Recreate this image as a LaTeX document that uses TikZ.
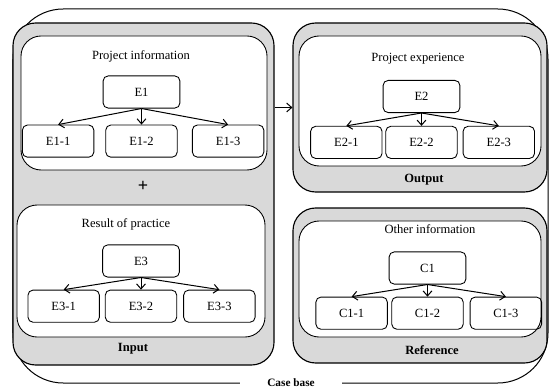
\documentclass[tikz,border=0pt]{standalone}
\usepackage{fontspec}
\setmainfont{Liberation Serif}
\usetikzlibrary{arrows.meta,positioning,fit}

\begin{document}
\begin{tikzpicture}[
    x=0.028cm, y=-0.028cm,
    >={Straight Barb[length=4pt,width=7pt]},
    font=\fontsize{10}{12}\selectfont,
    box/.style={
        draw,
        rounded corners=4pt,
        line width=0.7pt,
        minimum width=2cm,
        minimum height=0.9cm
    },
    topbox/.style={box, minimum width=2.15cm},
    panel/.style={draw, fill=black!15, rounded corners=18pt, line width=0.9pt, inner sep=0pt},
    inner/.style={draw, fill=white, rounded corners=16pt, line width=0.7pt, inner sep=0pt},
    tag/.style={font=\fontsize{10}{12}\selectfont\bfseries},
    link/.style={->, line width=0.8pt}
]

\useasboundingbox (0,0) rectangle (549,389);

% Case base
\node[draw, rounded corners=40pt, line width=0.8pt, inner sep=0pt, fit={(13,9) (548,383)}] (casebase) {};
\node[fill=white, inner xsep=22pt, inner ysep=1pt, font=\fontsize{9}{11}\selectfont\bfseries] (cblabel) at (291,383) {Case base};

% Panels
\node[panel, fit={(13,23) (274,365)}] (input) {};
\node[inner, fit={(21,36) (267,170)}] (prjinfo) {};
\node[inner, fit={(17,205) (265,337)}] (result) {};
\node[panel, fit={(293,23) (547,192)}] (output) {};
\node[inner, fit={(299,36) (541,166)}] (exper) {};
\node[panel, fit={(293,208) (547,363)}] (reference) {};
\node[inner, fit={(299,221) (541,337)}] (other) {};

% Titles
\node (prjinfotitle) at (141,56) {Project information};
\node (resulttitle) at (126,224) {Result of practice};
\node (expertitle) at (418,59) {Project experience};
\node (othertitle) at (430,229) {Other information};
\node[tag] (inputtag) at (133,349) {Input};
\node[tag] (outputtag) at (424,180) {Output};
\node[tag] (referencetag) at (432,350) {Reference};
\node[font=\Large\bfseries] (plus) at (143,186) {+};

% Project information
\node[topbox] (e1) at (141.5,92) {E1};
\node[box, below=0.45cm of e1] (e12) {E1-2};
\node[box, left=0.31cm of e12] (e11) {E1-1};
\node[box, right=0.40cm of e12] (e13) {E1-3};
\draw[link] (e1.south) -- (e11.north);
\draw[link] (e1.south) -- (e12.north);
\draw[link] (e1.south) -- (e13.north);

% Result of practice
\node[topbox] (e3) at (141,261) {E3};
\node[box, below=0.34cm of e3] (e32) {E3-2};
\node[box, left=0.14cm of e32] (e31) {E3-1};
\node[box, right=0.17cm of e32] (e33) {E3-3};
\draw[link] (e3.south) -- (e31.north);
\draw[link] (e3.south) -- (e32.north);
\draw[link] (e3.south) -- (e33.north);

% Project experience
\node[topbox] (e2) at (421.5,96.5) {E2};
\node[box, below=0.36cm of e2] (e22) {E2-2};
\node[box, left=0.08cm of e22] (e21) {E2-1};
\node[box, right=0.14cm of e22] (e23) {E2-3};
\draw[link] (e2.south) -- (e21.north);
\draw[link] (e2.south) -- (e22.north);
\draw[link] (e2.south) -- (e23.north);

% Other information
\node[topbox] (c1) at (427.5,268) {C1};
\node[box, below=0.34cm of c1] (c12) {C1-2};
\node[box, left=0.10cm of c12] (c11) {C1-1};
\node[box, right=0.17cm of c12] (c13) {C1-3};
\draw[link] (c1.south) -- (c11.north);
\draw[link] (c1.south) -- (c12.north);
\draw[link] (c1.south) -- (c13.north);

% Input to output
\draw[link] (output.west -| input.east) -- (output.west);

\end{tikzpicture}
\end{document}
